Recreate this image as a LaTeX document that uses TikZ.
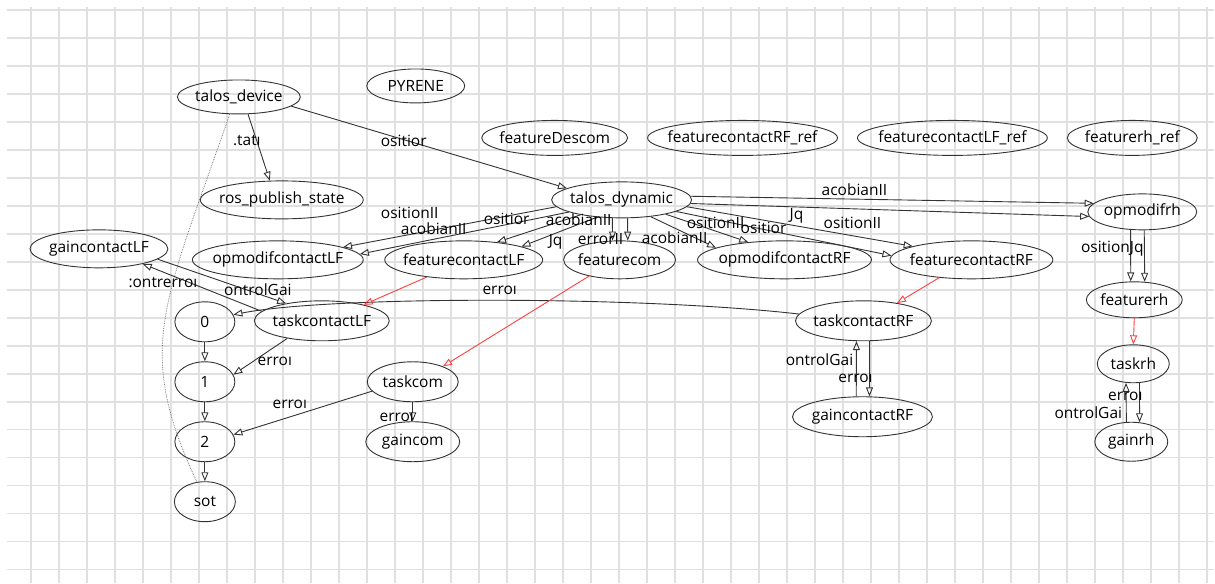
\documentclass[tikz,border=0pt]{standalone}
\usepackage{fontspec}
\setmainfont{Open Sans}
\usetikzlibrary{shapes.geometric,arrows.meta}

\begin{document}
\begin{tikzpicture}[x=1pt,y=-1pt,
    every node/.style={font=\fontsize{15.5}{17}\selectfont, text=black},
    st/.style={draw=black!80, line width=0.9pt, ellipse, minimum width=#1, minimum height=38, inner sep=0pt,
      execute at begin node={\hbox to 0pt\bgroup\hss}, execute at end node={\hss\egroup}},
    ln/.style={draw=black!80, line width=0.9pt, -{Triangle[open,length=9pt,width=7pt]}},
    rd/.style={ln, draw=red!75},
    lb/.style={inner sep=0pt}]
  \fill[white] (0,0) rectangle (1215,583);
  \foreach \gx in {0,...,42}
    \draw[black!12, line width=1.5pt] ({31+28.02*\gx},7) -- ({31+28.02*\gx},583);
  \foreach \gy in {0,...,20}
    \draw[black!12, line width=1.5pt] (7,{10+28*\gy}) -- (1215,{10+28*\gy});
  \useasboundingbox (0,0) rectangle (1215,583);

  \node[st=123, minimum height=34] (talos_device) at (239,97) {talos\_device};
  \node[st=98, minimum height=34] (pyrene) at (416,86) {PYRENE};
  \node[st=163] (ros_publish_state) at (282,200) {ros\_publish\_state};
  \node[st=146, minimum height=35] (featureDescom) at (555,138) {featureDescom};
  \node[st=190, minimum height=35] (featurecontactRF_ref) at (743,138) {featurecontactRF\_ref};
  \node[st=190, minimum height=35] (featurecontactLF_ref) at (953,138) {featurecontactLF\_ref};
  \node[st=130, minimum height=35] (featurerh_ref) at (1133,138) {featurerh\_ref};
  \node[st=140, minimum height=36] (talos_dynamic) at (622,200) {talos\_dynamic};
  \node[st=109, minimum height=36] (opmodifrh) at (1143,212) {opmodifrh};
  \node[st=138] (gaincontactLF) at (99,249) {gaincontactLF};
  \node[st=171] (opmodifcontactLF) at (278,260) {opmodifcontactLF};
  \node[st=158] (featurecontactLF) at (464,260) {featurecontactLF};
  \node[st=112] (featurecom) at (620,260) {featurecom};
  \node[st=174] (opmodifcontactRF) at (785,260) {opmodifcontactRF};
  \node[st=163] (featurecontactRF) at (972,260) {featurecontactRF};
  \node[st=96, minimum height=36] (featurerh) at (1135,300) {featurerh};
  \node[st=60, minimum height=40] (n0) at (205,322) {0};
  \node[st=135, minimum height=40] (taskcontactLF) at (322,321) {taskcontactLF};
  \node[st=136, minimum height=40] (taskcontactRF) at (864,321) {taskcontactRF};
  \node[st=72] (taskrh) at (1134,364) {taskrh};
  \node[st=60, minimum height=40] (n1) at (205,382) {1};
  \node[st=91, minimum height=40] (taskcom) at (413,382) {taskcom};
  \node[st=140, minimum height=40] (gaincontactRF) at (863,417) {gaincontactRF};
  \node[st=60, minimum height=40] (n2) at (205,442) {2};
  \node[st=94, minimum height=40] (gaincom) at (413,442) {gaincom};
  \node[st=73, minimum height=39] (gainrh) at (1132,442) {gainrh};
  \node[st=61, minimum height=40] (sot) at (205,502) {sot};

  \draw[ln] (talos_device.298) -- (ros_publish_state.122);
  \draw[ln] (talos_device.350) -- (talos_dynamic.168);
  \draw[densely dotted, draw=black!60, line width=0.7pt] (talos_device.242) .. controls (164,305) and (134,348) .. (sot.112);
  \draw[ln] (talos_dynamic.186) -- (opmodifcontactLF.11);
  \draw[ln] (talos_dynamic.193) -- (opmodifcontactLF.4);
  \draw[ln] (talos_dynamic.200) -- (featurecontactLF.28);
  \draw[ln] (talos_dynamic.215) -- (featurecontactLF.13);
  \draw[ln] (talos_dynamic.243) -- (featurecom.110);
  \draw[ln] (talos_dynamic.288) -- (featurecom.67);
  \draw[ln] (talos_dynamic.330) -- (opmodifcontactRF.170);
  \draw[ln] (talos_dynamic.342) -- (opmodifcontactRF.154);
  \draw[ln] (talos_dynamic.348) -- (featurecontactRF.177);
  \draw[ln] (talos_dynamic.354) -- (featurecontactRF.167);
  \draw[ln] (talos_dynamic.3) -- (opmodifrh.170);
  \draw[ln] (talos_dynamic.357) -- (opmodifrh.185);
  \draw[ln] (opmodifrh.237) -- (featurerh.101);
  \draw[ln] (opmodifrh.276) -- (featurerh.60);
  \draw[rd] (featurerh.south) -- (taskrh.north);
  \draw[ln] (gainrh.104) -- (taskrh.249);
  \draw[ln] (taskrh.288) -- (gainrh.67);
  \draw[rd] (featurecontactRF.209) -- (taskcontactRF.28);
  \draw[ln] (gaincontactRF.107) -- (taskcontactRF.251);
  \draw[ln] (taskcontactRF.287) -- (gaincontactRF.71);
  \draw[ln] (taskcontactRF.174) .. controls (640,296) and (330,296) .. (n0.14);
  \draw[rd] (featurecontactLF.205) -- (taskcontactLF.21);
  \draw[rd] (featurecom.208) -- (taskcom.27);
  \draw[ln] (gaincontactLF.350) -- (taskcontactLF.154);
  \draw[ln] (taskcontactLF.171) -- (gaincontactLF.341);
  \draw[ln] (taskcontactLF.207) -- (n1.14);
  \draw[ln] (taskcom.193) -- (n2.14);
  \draw[ln] (taskcom.south) -- (gaincom.north);
  \draw[ln] (n0) -- (n1);
  \draw[ln] (n1) -- (n2);
  \draw[ln] (n2) -- (sot);

  \node[lb] (lbState) at (247,141) {.tatı};
  \node[lb] (lbPos) at (404,141) {ositior};
  \node[lb] (lbPosLF) at (410,213) {ositionII};
  \node[lb] (lbJacLF) at (434,229) {acobianII};
  \node[lb] (lbPosFLF) at (507,219) {ositior};
  \node[lb] (lbJacCom) at (579,220) {acobianII};
  \node[lb] (lbJqFLF) at (556,242) {Jq};
  \node[lb] (lbErrCom) at (601,239) {errorII};
  \node[lb] (lbJacRF) at (675,238) {acobianII};
  \node[lb] (lbPosRF) at (716,223) {ositionII};
  \node[lb] (lbPosFRF) at (764,228) {ositior};
  \node[lb] (lbJqFRF) at (797,216) {Jq};
  \node[lb] (lbJacRH) at (855,190) {acobianII};
  \node[lb] (lbPosRH) at (853,223) {ositionII};
  \node[lb] (lbPosJq) at (1113,249) {ositionJq};
  \node[lb] (lbGainLF) at (163,283) {:ontrerroı};
  \node[lb] (lbCtrlLF) at (258,290) {ontrolGai};
  \node[lb] (lbErrRF) at (500,291) {erroı};
  \node[lb] (lbErrLF) at (275,362) {erroı};
  \node[lb] (lbErrCom2) at (290,405) {erroı};
  \node[lb] (lbErrGain) at (397,418) {erroı};
  \node[lb] (lbCtrlRF) at (820,360) {ontrolGai};
  \node[lb] (lbErrGRF) at (856,379) {erroı};
  \node[lb] (lbErrRH) at (1126,397) {erroı};
  \node[lb] (lbCtrlRH) at (1089,413) {ontrolGai};
\end{tikzpicture}
\end{document}
